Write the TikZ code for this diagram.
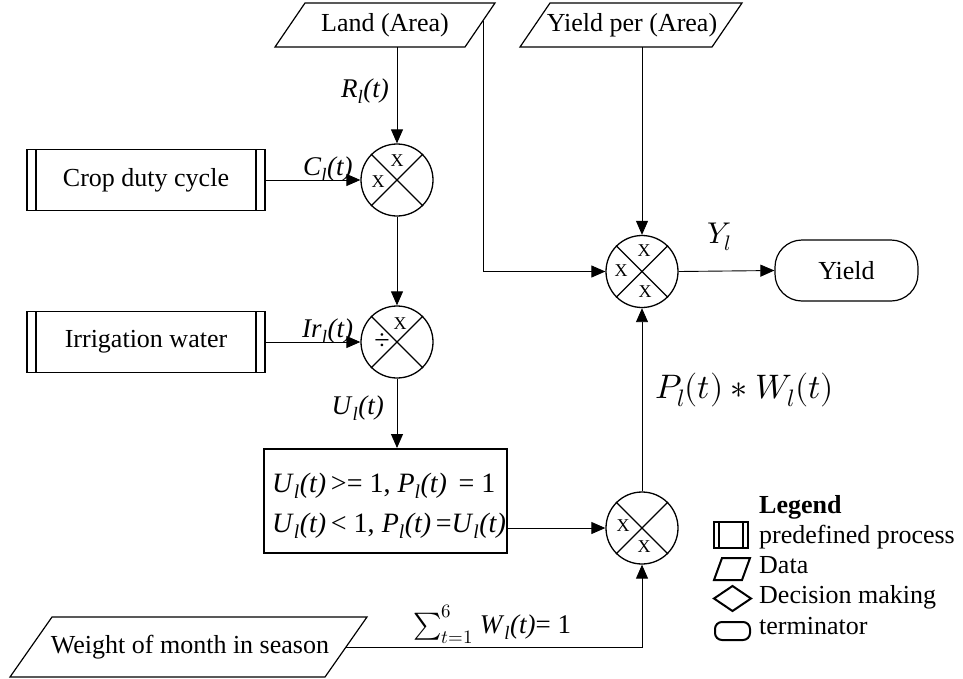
\documentclass[tikz,border=0pt]{standalone}
\usepackage{fontspec}
\usepackage{unicode-math}
\setmainfont{Liberation Serif}
\setmathfont{Latin Modern Math}
\usetikzlibrary{arrows.meta,calc}

% italic flow variable with subscript l, e.g. R_l(t)
\newcommand{\flowvar}[1]{\textit{#1}\textsubscript{\textit{l}}\textit{(t)}}

\begin{document}
\begin{tikzpicture}[x=1pt,y=-1pt,
  every node/.style={font=\fontsize{26}{30}\selectfont},
  conn/.style={line width=0.9pt,-{Triangle[length=14pt,width=12pt]}},
  outline/.style={line width=1.2pt},
  icon/.style={line width=2pt},
  txt/.style={inner sep=0pt},
  lbl/.style={inner sep=0pt,font=\fontsize{27}{30}\selectfont},
  mlbl/.style={inner sep=0pt,font=\fontsize{30}{32}\selectfont},
  opmark/.style={inner sep=0pt,font=\fontsize{18}{18}\selectfont},
  mult/.style={circle,draw,line width=1.3pt,minimum size=72pt,inner sep=0pt},
  predef/.style={draw,line width=1.2pt,minimum width=238pt,minimum height=61pt,
    inner sep=0pt,
    path picture={
      \draw[line width=1.2pt]
        ([xshift=9pt]path picture bounding box.north west) --
        ([xshift=9pt]path picture bounding box.south west)
        ([xshift=-9pt]path picture bounding box.north east) --
        ([xshift=-9pt]path picture bounding box.south east);}},
  term/.style={draw,line width=1.2pt,rounded corners=27pt,
    minimum width=143pt,minimum height=61pt,inner sep=0pt},
  decision/.style={draw,line width=2pt,minimum width=243pt,
    minimum height=104pt,inner sep=0pt}
]
\useasboundingbox (0,0) rectangle (963,678);

% ---------- data inputs (parallelograms) ----------
\node[txt] (land) at (385,25) {Land (Area)};
\draw[outline] (305,3) -- (495,3) -- (465,47) -- (275,47) -- cycle;
\coordinate (landB) at (397,47);
\coordinate (landR) at (483,20.6);

\node[txt] (ypa) at (632,25) {Yield per (Area)};
\draw[outline] (550,3) -- (742,3) -- (712,47) -- (520,47) -- cycle;
\coordinate (ypaB) at (642,47);

\node[txt] (wt) at (190,647) {Weight of month in season};
\draw[outline] (52,617) -- (367,617) -- (325,677) -- (10,677) -- cycle;
\coordinate (wtR) at (346,647);

% ---------- predefined processes ----------
\node[predef] (crop) at (146,180) {Crop duty cycle};
\node[predef] (irr) at (146,342) {Irrigation water};

% ---------- operators ----------
\node[mult] (m1) at (397,180) {};
\node[mult] (dv) at (397,342) {};
\node[mult] (my) at (642,271.5) {};
\node[mult] (mw) at (642,528) {};
\foreach \c in {m1,dv,my,mw}{
  \draw[line width=1.3pt] (\c.45) -- (\c.225) (\c.135) -- (\c.315);
}
\node[opmark] at ($(m1)+(0,-19)$) {X};
\node[opmark] at ($(m1)+(-19,2)$) {X};
\node[opmark] at ($(dv)+(3,-18)$) {X};
\node[opmark,font=\fontsize{28}{28}\selectfont] at ($(dv)+(-15,0)$) {÷};
\node[opmark] at ($(my)+(2,-21)$) {X};
\node[opmark] at ($(my)+(-21,-1)$) {X};
\node[opmark] at ($(my)+(3,20)$) {X};
\node[opmark] at ($(mw)+(-19,-2)$) {X};
\node[opmark] at ($(mw)+(2,19)$) {X};

% ---------- decision and terminator ----------
\node[decision] (dec) at (385.5,501) {};
\node[txt,anchor=base west,font=\fontsize{28}{30}\selectfont] (decA) at (272,492)
  {\flowvar{U}\,>= 1, \flowvar{P} \,= 1};
\node[txt,anchor=base west,font=\fontsize{28}{30}\selectfont] (decB) at (272,532)
  {\flowvar{U}\,< 1, \flowvar{P}\,=\flowvar{U}};
\node[term] (yield) at (846.5,270.5) {Yield};

% ---------- connectors ----------
\draw[conn] (landB) -- (m1.north);
\draw[conn] (crop.east) -- (m1.west);
\draw[conn] (m1.south) -- (dv.north);
\draw[conn] (irr.east) -- (dv.west);
\draw[conn] (dv.south) -- (dv.south |- dec.north);
\draw[conn] (landR) |- (my.west);
\draw[conn] (ypaB) -- (my.north);
\draw[conn] (my.east) -- (yield.west);
\draw[conn] (dec.east |- mw.west) -- (mw.west);
\draw[conn] (mw.north) -- (my.south);
\draw[conn] (wtR) -| (mw.south);

% ---------- connector labels ----------
\node[lbl,anchor=base east] (lR) at (389,97) {\flowvar{R}};
\node[lbl,anchor=base west] (lC) at (303,175) {\flowvar{C}};
\node[lbl,anchor=base west] (lI) at (302,337) {\textit{Ir}\textsubscript{\textit{l}}\textit{(t)}};
\node[lbl,anchor=base east] (lU) at (384,414) {\flowvar{U}};
\node[mlbl,anchor=base west] (lY) at (707,243) {$Y_l$};
\node[mlbl,anchor=base west,font=\fontsize{34}{36}\selectfont] (lPW) at (655,398)
  {$P_l(t) \ast W_l(t)$};
\node[lbl,anchor=base west] (lS) at (413,633)
  {$\sum_{t=1}^{6}$ \flowvar{W}= 1};

% ---------- legend ----------
\node[txt,anchor=base west,font=\bfseries\fontsize{26}{30}\selectfont] (leg) at (759,513) {Legend};
\node[txt,anchor=base west] (legA) at (759,543) {predefined process};
\node[txt,anchor=base west] (legB) at (759,573) {Data};
\node[txt,anchor=base west] (legC) at (759,603) {Decision making};
\node[txt,anchor=base west] (legD) at (759,634) {terminator};
\draw[icon] (714,522) rectangle (748,548);
\draw[icon] (719,522) -- (719,548) (743,522) -- (743,548);
\draw[icon] (722,558) -- (750,558) -- (742,580) -- (714,580) -- cycle;
\draw[icon] (714,598.5) -- (732.5,586) -- (751,598.5) -- (732.5,611) -- cycle;
\draw[icon,rounded corners=7pt] (715,622) rectangle (750,640);
\end{tikzpicture}
\end{document}
